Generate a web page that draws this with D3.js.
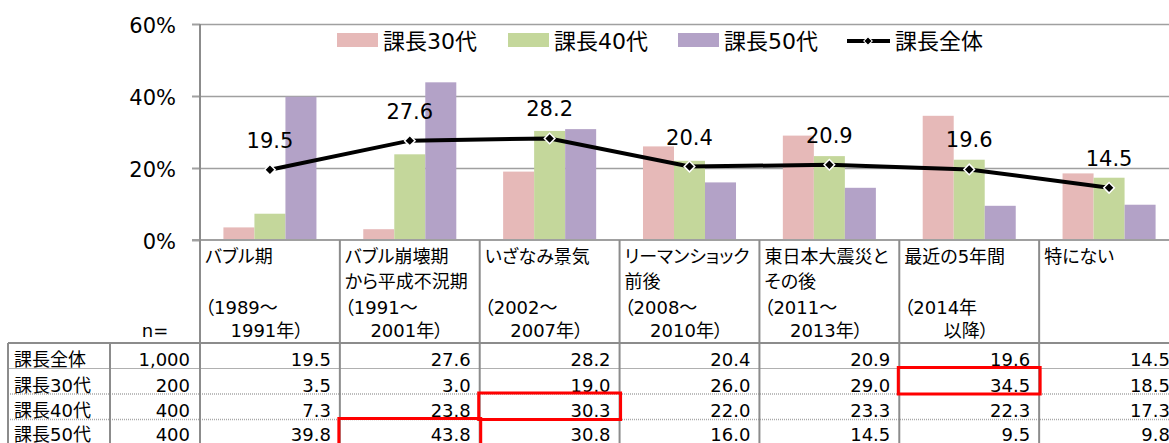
<!DOCTYPE html>
<html>
<head>
<meta charset="utf-8">
<script src="https://cdn.jsdelivr.net/npm/d3@7"></script>
<style>
  body { margin: 0; background: #fff; }
  text { font-family: "DejaVu Sans", "Noto Sans CJK JP", sans-serif; font-feature-settings: "palt"; fill: #000; }
</style>
</head>
<body>
<script>
// data
const categories = ["バブル期", "バブル崩壊期", "いざなみ景気", "リーマンショック", "東日本大震災", "最近の5年間", "特にない"];
const headerLines = [
  ["バブル期", "", "（1989～", "1991年）"],
  ["バブル崩壊期", "から平成不況期", "（1991～", "2001年）"],
  ["いざなみ景気", "", "（2002～", "2007年）"],
  ["リーマンショック", "前後", "（2008～", "2010年）"],
  ["東日本大震災と", "その後", "（2011～", "2013年）"],
  ["最近の5年間", "", "（2014年", "以降）"],
  ["特にない", "", "", ""]
];
const barSeries = ["課長30代", "課長40代", "課長50代"];
const lineSeries = "課長全体";
const total = [19.5, 27.6, 28.2, 20.4, 20.9, 19.6, 14.5];
const s30 = [3.5, 3.0, 19.0, 26.0, 29.0, 34.5, 18.5];
const s40 = [7.3, 23.8, 30.3, 22.0, 23.3, 22.3, 17.3];
const s50 = [39.8, 43.8, 30.8, 16.0, 14.5, 9.5, 9.8];
const rowNames = ["課長全体", "課長30代", "課長40代", "課長50代"];
const nValues = [1000, 200, 400, 400];
const yTicks = [0, 20, 40, 60];
// red boxes in the table: [row, category]
const highlights = [[1, 5], [2, 2], [3, 1]];

const colors = ["#e6b9b8", "#c4d79b", "#b3a2c7"];
const grid = "#a0a0a0";
const w = 1169, h = 443;

const barValues = [s30, s40, s50];
const rowValues = [total, s30, s40, s50];

// scales
const x = d3.scaleBand().domain(categories).range([200, 1179]);
const bw = x.bandwidth();
const xSub = d3.scaleBand().domain(barSeries).range([0, bw]).paddingOuter(0.755);
const y = d3.scaleLinear().domain([0, 60]).range([240, 24]);
const rowY = d3.scaleBand().domain(rowNames).range([343, 445]);
const headerBase = [263, 288, 314, 337];

const svg = d3.select("body").append("svg")
  .attr("width", w).attr("height", h);

// gridlines
svg.append("g")
  .attr("transform", "translate(200,0)")
  .call(d3.axisLeft(y).tickValues(yTicks.slice(1)).tickSize(-(w - 200)).tickFormat(""))
  .call(g => g.select(".domain").remove())
  .call(g => g.selectAll("line").attr("stroke", grid).attr("stroke-width", 1.5));

// bars
barSeries.forEach((s, i) => {
  svg.append("g").selectAll("rect")
    .data(barValues[i])
    .join("rect")
    .attr("x", (d, j) => x(categories[j]) + xSub(s))
    .attr("y", d => y(d))
    .attr("width", xSub.bandwidth())
    .attr("height", d => y(0) - y(d))
    .attr("fill", colors[i]);
});

// left axis
svg.append("g")
  .attr("transform", "translate(200,0)")
  .call(d3.axisLeft(y).tickValues(yTicks).tickSize(8).tickPadding(16).tickFormat(d => d + "%"))
  .call(g => g.select(".domain").remove())
  .call(g => g.selectAll("line").attr("stroke", grid).attr("stroke-width", 2))
  .call(g => g.selectAll("text").attr("font-size", 21).attr("dy", "0.42em")
    .style("font-family", "'DejaVu Sans', 'Noto Sans CJK JP'"));

// line series
const line = d3.line()
  .x((d, i) => x(categories[i]) + bw / 2)
  .y(d => y(d));
svg.append("path")
  .datum(total)
  .attr("d", line)
  .attr("fill", "none")
  .attr("stroke", "#000")
  .attr("stroke-width", 4);

const diamond = d3.symbol(d3.symbolSquare, 56);
svg.append("g").selectAll("path")
  .data(total)
  .join("path")
  .attr("d", diamond)
  .attr("transform", (d, i) => `translate(${x(categories[i]) + bw / 2},${y(d)}) rotate(45)`)
  .attr("fill", "#000")
  .attr("stroke", "#fff")
  .attr("stroke-width", 1.5);

svg.append("g").selectAll("text")
  .data(total)
  .join("text")
  .attr("x", (d, i) => x(categories[i]) + bw / 2)
  .attr("y", d => y(d) - 22)
  .attr("text-anchor", "middle")
  .attr("font-size", 21)
  .text(d => d.toFixed(1));

// legend
const legend = svg.append("g").attr("font-size", 22);
const legX = [337, 508, 678];
barSeries.forEach((s, i) => {
  legend.append("rect").attr("x", legX[i]).attr("y", 33).attr("width", 41).attr("height", 14).attr("fill", colors[i]);
  legend.append("text").attr("x", legX[i] + 46).attr("y", 49).text(s);
});
legend.append("line").attr("x1", 847).attr("x2", 890).attr("y1", 41).attr("y2", 41)
  .attr("stroke", "#000").attr("stroke-width", 4);
legend.append("path").attr("d", d3.symbol(d3.symbolSquare, 36))
  .attr("transform", "translate(868,41) rotate(45)").attr("fill", "#000").attr("stroke", "#fff");
legend.append("text").attr("x", 895).attr("y", 49).text(lineSeries);

// x axis baseline
svg.append("line").attr("x1", 192).attr("x2", w).attr("y1", y(0)).attr("y2", y(0))
  .attr("stroke", grid).attr("stroke-width", 2);

// table
const table = svg.append("g").attr("font-size", 18);

// header cell text
categories.forEach((c, i) => {
  const lines = headerLines[i];
  lines.forEach((t, k) => {
    if (!t) return;
    const centered = k === 3;
    table.append("text")
      .attr("x", centered ? x(c) + bw / 2 - 3 : x(c) + 5)
      .attr("y", headerBase[k])
      .attr("text-anchor", centered ? "middle" : "start")
      .text(t);
  });
});
table.append("text").attr("x", 155).attr("y", headerBase[3]).attr("text-anchor", "middle").text("n=");

// rows
rowNames.forEach((r, i) => {
  const base = Math.min(rowY(r) + rowY.bandwidth() - 2.5, h - 2.5);
  table.append("text").attr("x", 14).attr("y", base).text(r);
  table.append("text").attr("x", 190).attr("y", base).attr("text-anchor", "end")
    .text(d3.format(",")(nValues[i]));
  categories.forEach((c, j) => {
    table.append("text").attr("x", x(c) + bw - 9).attr("y", base).attr("text-anchor", "end")
      .text(rowValues[i][j].toFixed(1));
  });
});

// table lines
const tl = svg.append("g").attr("stroke", "#8c8c8c");
tl.append("line").attr("x1", 8).attr("x2", w).attr("y1", 343).attr("y2", 343).attr("stroke-width", 2);
tl.append("line").attr("x1", 8).attr("x2", w).attr("y1", rowY(rowNames[1])).attr("y2", rowY(rowNames[1]))
  .attr("stroke", "#b0b0b0").attr("stroke-width", 1);
rowNames.slice(2).forEach(r => {
  tl.append("line").attr("x1", 8).attr("x2", w).attr("y1", rowY(r)).attr("y2", rowY(r))
    .attr("stroke", "#a8a8a8").attr("stroke-width", 1.5).attr("stroke-dasharray", "1,1");
});
[8, 110].forEach(v => {
  tl.append("line").attr("x1", v).attr("x2", v).attr("y1", 343).attr("y2", h).attr("stroke-width", 2);
});
tl.append("line").attr("x1", 200).attr("x2", 200).attr("y1", 24).attr("y2", h).attr("stroke-width", 2);
categories.slice(1).forEach(c => {
  tl.append("line").attr("x1", x(c)).attr("x2", x(c)).attr("y1", 240).attr("y2", h).attr("stroke-width", 2);
});

// red highlight boxes
svg.append("g").selectAll("rect")
  .data(highlights)
  .join("rect")
  .attr("x", d => x(categories[d[1]]) - 1)
  .attr("y", d => rowY(rowNames[d[0]]) - 1)
  .attr("width", bw + 2)
  .attr("height", d => Math.min(rowY.bandwidth() + 1, h + 3 - rowY(rowNames[d[0]])))
  .attr("fill", "none")
  .attr("stroke", "#ff0000")
  .attr("stroke-width", 3);
</script>
</body>
</html>
